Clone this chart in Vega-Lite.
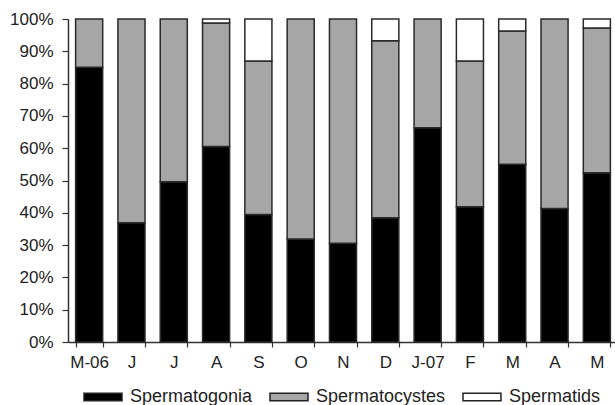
{
  "$schema": "https://vega.github.io/schema/vega-lite/v6.json",
  "width": 550,
  "height": 323,
  "autosize": {"type": "none"},
  "padding": {"left": 68, "top": 19, "right": 0, "bottom": 63},
  "background": "white",
  "config": {
    "view": {"stroke": null},
    "font": "Liberation Sans",
    "axis": {"grid": false, "domainColor": "#333", "tickColor": "#333", "labelColor": "#222", "labelFont": "Liberation Sans", "labelFontSize": 17, "domainWidth": 1.5, "tickWidth": 1.2, "title": null}
  },
  "data": {"values": [
    {"m": 1, "stage": "Spermatogonia", "pct": 85.1},
    {"m": 1, "stage": "Spermatocystes", "pct": 14.9},
    {"m": 2, "stage": "Spermatogonia", "pct": 36.9},
    {"m": 2, "stage": "Spermatocystes", "pct": 63.1},
    {"m": 3, "stage": "Spermatogonia", "pct": 49.6},
    {"m": 3, "stage": "Spermatocystes", "pct": 50.4},
    {"m": 4, "stage": "Spermatogonia", "pct": 60.5},
    {"m": 4, "stage": "Spermatocystes", "pct": 38.3},
    {"m": 4, "stage": "Spermatids", "pct": 1.2},
    {"m": 5, "stage": "Spermatogonia", "pct": 39.5},
    {"m": 5, "stage": "Spermatocystes", "pct": 47.5},
    {"m": 5, "stage": "Spermatids", "pct": 13.0},
    {"m": 6, "stage": "Spermatogonia", "pct": 31.9},
    {"m": 6, "stage": "Spermatocystes", "pct": 68.1},
    {"m": 7, "stage": "Spermatogonia", "pct": 30.6},
    {"m": 7, "stage": "Spermatocystes", "pct": 69.4},
    {"m": 8, "stage": "Spermatogonia", "pct": 38.5},
    {"m": 8, "stage": "Spermatocystes", "pct": 54.8},
    {"m": 8, "stage": "Spermatids", "pct": 6.7},
    {"m": 9, "stage": "Spermatogonia", "pct": 66.3},
    {"m": 9, "stage": "Spermatocystes", "pct": 33.7},
    {"m": 10, "stage": "Spermatogonia", "pct": 41.9},
    {"m": 10, "stage": "Spermatocystes", "pct": 45.1},
    {"m": 10, "stage": "Spermatids", "pct": 13.0},
    {"m": 11, "stage": "Spermatogonia", "pct": 55.0},
    {"m": 11, "stage": "Spermatocystes", "pct": 41.3},
    {"m": 11, "stage": "Spermatids", "pct": 3.7},
    {"m": 12, "stage": "Spermatogonia", "pct": 41.3},
    {"m": 12, "stage": "Spermatocystes", "pct": 58.7},
    {"m": 13, "stage": "Spermatogonia", "pct": 52.4},
    {"m": 13, "stage": "Spermatocystes", "pct": 44.8},
    {"m": 13, "stage": "Spermatids", "pct": 2.8}
  ]},
  "mark": {"type": "bar", "stroke": "#2a2a2a", "strokeWidth": 1.5},
  "encoding": {
    "x": {
      "field": "m", "type": "ordinal",
      "scale": {"paddingInner": 0.36, "paddingOuter": 0.18},
      "axis": {"labelAngle": 0, "tickBand": "extent", "tickSize": 5, "labelPadding": 7,
        "labelExpr": "['M-06','J','J','A','S','O','N','D','J-07','F','M','A','M'][datum.value-1]"}
    },
    "y": {
      "field": "pct", "type": "quantitative", "stack": "zero",
      "scale": {"domain": [0, 100], "nice": false},
      "axis": {"values": [0,10,20,30,40,50,60,70,80,90,100], "labelExpr": "datum.value + '%'", "tickSize": 6, "labelPadding": 9}
    },
    "color": {
      "field": "stage", "type": "nominal",
      "sort": ["Spermatogonia", "Spermatocystes", "Spermatids"],
      "scale": {"domain": ["Spermatogonia", "Spermatocystes", "Spermatids"], "range": ["#000000", "#a6a6a6", "#ffffff"]},
      "legend": {
        "title": null, "orient": "none", "direction": "horizontal",
        "legendX": 15, "legendY": 358,
        "symbolType": "M-1,-0.2H1V0.2H-1Z", "symbolSize": 1444,
        "symbolStrokeColor": "#222", "symbolStrokeWidth": 1.5,
        "labelFont": "Liberation Sans", "labelFontSize": 18, "labelColor": "#222",
        "labelOffset": 7, "columnPadding": 14, "labelLimit": 300
      }
    }
  }
}
